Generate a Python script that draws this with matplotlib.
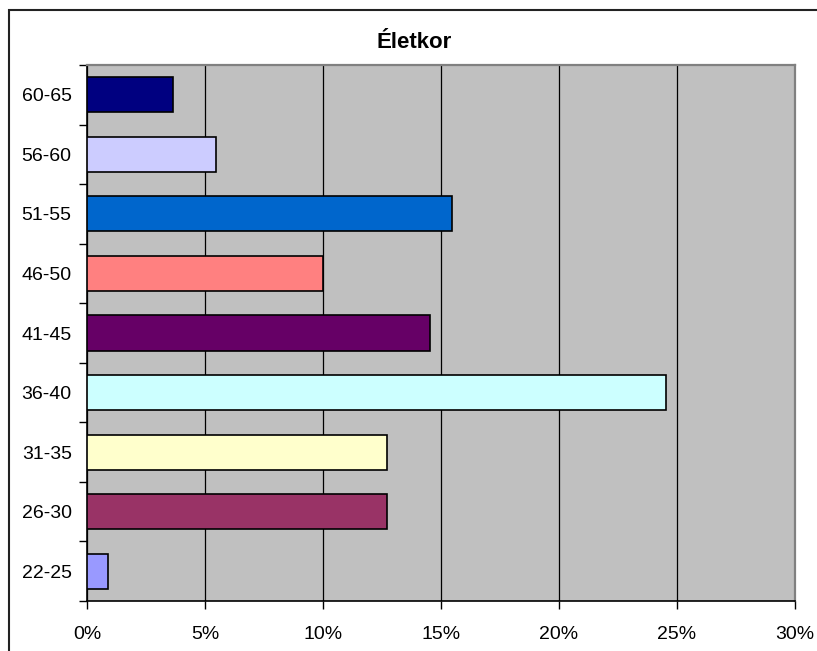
import matplotlib.pyplot as plt
from matplotlib.patches import Rectangle
from matplotlib.ticker import MultipleLocator, FuncFormatter

plt.rcParams['font.family'] = ['Liberation Sans', 'DejaVu Sans']

# Életkor megoszlás (%)
categories = ["22-25", "26-30", "31-35", "36-40", "41-45", "46-50", "51-55", "56-60", "60-65"]
values = [0.91, 12.73, 12.73, 24.55, 14.55, 10.0, 15.45, 5.45, 3.64]
colors = ["#9999FF", "#993366", "#FFFFCC", "#CCFFFF", "#660066",
          "#FF8080", "#0066CC", "#CCCCFF", "#000080"]

fig = plt.figure(figsize=(8.17, 6.51), dpi=100)
ax = fig.add_axes([87 / 817, 50 / 651, 708 / 817, 536 / 651])

# külső keret (jobb és alsó széle kilóg a képből)
fig.patches.append(Rectangle((9 / 817, -5 / 651), 820 / 817, 646 / 651,
                             transform=fig.transFigure, fill=False,
                             edgecolor='#222222', linewidth=1.5))

ax.set_facecolor('#C0C0C0')
pos = list(range(len(categories)))
ax.barh(pos, values, height=0.59, color=colors, edgecolor='black',
        linewidth=1.2, zorder=3)

ax.set_xlim(0, 30)
ax.set_ylim(-0.5, len(categories) - 0.5)
ax.xaxis.set_major_locator(MultipleLocator(5))
ax.xaxis.set_major_formatter(FuncFormatter(lambda v, p: f"{v:.0f}%"))
ax.grid(axis='x', color='black', linewidth=0.9, zorder=1)

ax.set_yticks(pos)
ax.set_yticklabels(categories)
ax.set_yticks([p - 0.5 for p in pos] + [len(pos) - 0.5], minor=True)
ax.tick_params(axis='y', which='major', length=0, pad=11)
ax.tick_params(axis='y', which='minor', length=6, width=1)
ax.tick_params(axis='x', length=6, width=1, pad=12)
ax.tick_params(labelsize=14)

for s in ['left', 'bottom']:
    ax.spines[s].set_color('black')
    ax.spines[s].set_linewidth(1.2)
for s in ['top', 'right']:
    ax.spines[s].set_color('#808080')
    ax.spines[s].set_linewidth(1.6)

# cím a diagramterület közepén
fig.text(414 / 817, 1 - 43 / 651, 'Életkor', fontsize=16, fontweight='bold',
         ha='center', va='center')

plt.savefig('out.png', dpi=100)
